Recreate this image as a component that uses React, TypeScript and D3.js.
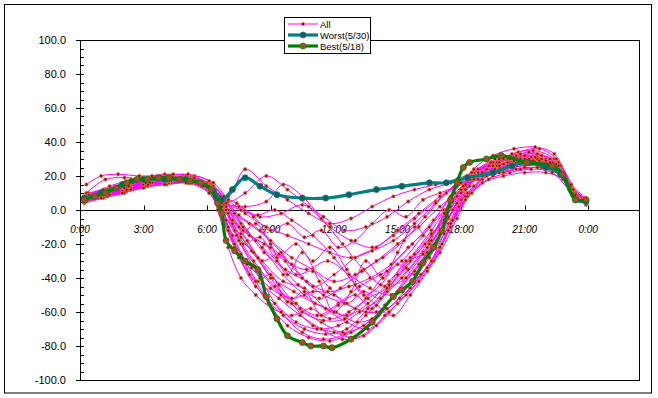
import React, { useEffect, useRef } from 'react'
import * as d3 from 'd3'

type Pt = [number, number] // [hour of day, value]

const xTicks = [0, 3, 6, 9, 12, 15, 18, 21, 24]
const xTickLabels = ['0:00', '3:00', '6:00', '9:00', '12:00', '15:00', '18:00', '21:00', '0:00']
const yTicks = [100, 80, 60, 40, 20, 0, -20, -40, -60, -80, -100]
const legendNames = ['All', 'Worst(5/30)', 'Best(5/18)']

// teal series
const worst: Pt[] = [[0.2, 7], [1.0, 10], [2.0, 15], [3.0, 18], [4.0, 18], [5.0, 18], [5.7, 16], [6.3, 11], [6.7, 6], [7.2, 12], [7.8, 19], [8.5, 14], [9.3, 9], [10.5, 7], [11.6, 7], [12.7, 9], [14.0, 12], [15.2, 14], [16.5, 16], [17.3, 16], [18.3, 19], [19.5, 22], [20.4, 26], [21.2, 28], [22.0, 25], [22.7, 21], [23.4, 6], [23.9, 5]]

// green series
const best: Pt[] = [[0.2, 6], [0.7, 8], [1.2, 10], [1.7, 13], [2.2, 16], [2.7, 18], [3.2, 18], [3.7, 19], [4.2, 19], [4.7, 18], [5.2, 17], [5.7, 16], [6.2, 12], [6.5, 4], [6.7, -2], [6.9, -18], [7.3, -24], [7.8, -30], [8.4, -35], [8.8, -51], [9.3, -64], [9.8, -74], [10.5, -78], [10.9, -80], [11.5, -80], [11.9, -81], [12.8, -76], [13.8, -66], [14.8, -51], [15.2, -47], [15.7, -42], [16.2, -31], [16.7, -22], [17.1, -12], [17.5, 6], [17.8, 16], [18.1, 25], [18.4, 28], [19.2, 30], [19.9, 32], [21.1, 28], [22.3, 26], [22.8, 21], [23.4, 6], [23.9, 6]]

// magenta series ("All")
const day01: Pt[] = [[0.3, 6], [1, 9], [2, 14], [3, 17], [4, 19], [5, 18], [6, 14], [6.8, 2], [7.5, -18], [8.5, -40], [9.5, -60], [10.5, -72], [11.5, -76], [12.5, -73], [13.5, -62], [14.5, -48], [15.5, -35], [16.5, -18], [17.5, 2], [18.5, 20], [19.5, 27], [20.5, 30], [21.5, 29], [22.5, 24], [23.3, 10], [23.9, 5]]
const day02: Pt[] = [[0.2, 5], [1.1, 8], [2.1, 12], [3.1, 16], [4.1, 17], [5.1, 17], [6.1, 10], [6.7, -5], [7.4, -25], [8.3, -45], [9.2, -55], [10.2, -66], [11.2, -70], [12.2, -68], [13.2, -60], [14.2, -52], [15.2, -40], [16.2, -25], [17.2, -8], [18.2, 12], [19.2, 24], [20.2, 28], [21.2, 30], [22.2, 27], [23.2, 12], [23.9, 6]]
const day03: Pt[] = [[0.4, 8], [1.3, 12], [2.3, 16], [3.3, 19], [4.3, 20], [5.3, 19], [6.2, 15], [6.9, 5], [7.6, -8], [8.6, -22], [9.6, -38], [10.6, -50], [11.6, -58], [12.6, -62], [13.6, -55], [14.6, -42], [15.6, -28], [16.6, -12], [17.6, 6], [18.6, 18], [19.6, 25], [20.6, 31], [21.6, 33], [22.6, 26], [23.4, 8], [23.9, 4]]
const day04: Pt[] = [[0.3, 7], [1.2, 11], [2.2, 15], [3.2, 18], [4.2, 19], [5.2, 19], [6.1, 15], [7.0, 8], [7.8, 24], [8.8, 14], [9.8, 6], [10.8, -2], [11.8, -8], [12.8, -5], [13.8, 2], [14.8, 8], [15.8, 12], [16.8, 15], [17.8, 18], [18.8, 20], [19.8, 24], [20.8, 27], [21.8, 26], [22.6, 22], [23.3, 9], [23.9, 5]]
const day05: Pt[] = [[0.2, 6], [1.0, 10], [2.0, 14], [3.0, 16], [4.0, 18], [5.0, 18], [6.0, 13], [6.8, 4], [7.8, 2], [8.8, 5], [9.6, 15], [10.5, 8], [11.4, -5], [12.4, -20], [13.4, -35], [14.4, -45], [15.4, -40], [16.4, -25], [17.4, -8], [18.4, 10], [19.4, 22], [20.4, 27], [21.4, 28], [22.4, 25], [23.3, 10], [23.9, 6]]
const day06: Pt[] = [[0.3, 15], [1.0, 20], [1.8, 21], [2.8, 20], [3.8, 20], [4.8, 19], [5.8, 16], [6.6, 6], [7.3, -12], [8.2, -30], [9.2, -45], [10.2, -55], [11.2, -62], [12.2, -55], [13.2, -45], [14.2, -38], [15.2, -30], [16.2, -15], [17.2, 0], [18.2, 15], [19.2, 24], [20.2, 30], [21.2, 34], [22.2, 30], [23.1, 15], [23.8, 7]]
const day07: Pt[] = [[0.2, 4], [1.1, 7], [2.1, 10], [3.1, 14], [4.1, 15], [5.1, 16], [6.0, 13], [6.6, 2], [7.2, -15], [7.9, -32], [8.7, -50], [9.6, -62], [10.6, -70], [11.6, -73], [12.6, -70], [13.6, -58], [14.6, -45], [15.6, -30], [16.6, -15], [17.6, 5], [18.6, 22], [19.6, 30], [20.6, 32], [21.6, 31], [22.6, 25], [23.4, 7]]
const day08: Pt[] = [[0.4, 7], [1.4, 10], [2.4, 13], [3.4, 17], [4.4, 18], [5.4, 17], [6.3, 11], [7.0, 0], [8.0, -8], [9.0, -18], [10.0, -28], [11.0, -35], [12.0, -42], [13.0, -38], [14.0, -30], [15.0, -20], [16.0, -10], [17.0, 2], [18.0, 12], [19.0, 20], [20.0, 24], [21.0, 26], [22.0, 25], [22.9, 18], [23.6, 6]]
const day09: Pt[] = [[0.3, 9], [1.2, 12], [2.2, 15], [3.2, 17], [4.2, 17], [5.2, 16], [6.1, 12], [6.8, 3], [7.5, -10], [8.4, -28], [9.4, -44], [10.4, -58], [11.4, -66], [12.4, -72], [13.4, -68], [14.4, -56], [15.4, -40], [16.4, -22], [17.4, -5], [18.4, 14], [19.4, 26], [20.4, 33], [21.4, 35], [22.4, 30], [23.2, 14], [23.9, 5]]
const day10: Pt[] = [[0.2, 6], [1.0, 8], [2.0, 11], [3.0, 15], [4.0, 17], [5.0, 18], [5.9, 15], [6.7, 8], [7.5, -3], [8.5, -12], [9.5, -25], [10.5, -40], [11.5, -50], [12.5, -55], [13.5, -60], [14.5, -58], [15.5, -45], [16.5, -28], [17.5, -8], [18.5, 10], [19.5, 20], [20.5, 25], [21.5, 27], [22.5, 24], [23.3, 10], [23.9, 4]]
const day11: Pt[] = [[0.3, 8], [1.3, 11], [2.3, 14], [3.3, 18], [4.3, 19], [5.3, 18], [6.2, 14], [6.9, 0], [7.6, -20], [8.5, -36], [9.5, -50], [10.5, -60], [11.5, -65], [12.5, -64], [13.5, -52], [14.5, -36], [15.5, -22], [16.5, -10], [17.5, 8], [18.5, 22], [19.5, 28], [20.5, 30], [21.5, 28], [22.5, 26], [23.3, 11], [23.9, 6]]
const day12: Pt[] = [[0.2, 5], [1.1, 9], [2.1, 13], [3.1, 16], [4.1, 18], [5.1, 17], [6.1, 13], [6.7, 0], [7.3, -22], [8.0, -38], [8.9, -55], [9.8, -68], [10.8, -75], [11.8, -77], [12.8, -72], [13.8, -64], [14.8, -50], [15.8, -36], [16.8, -20], [17.6, 0], [18.4, 18], [19.4, 28], [20.4, 30], [21.4, 29], [22.4, 26], [23.2, 12], [23.8, 6]]
const day13: Pt[] = [[0.4, 10], [1.4, 13], [2.4, 16], [3.4, 18], [4.4, 19], [5.4, 18], [6.3, 14], [7.0, 5], [7.8, 10], [8.8, 20], [9.8, 12], [10.8, 2], [11.8, -10], [12.8, -18], [13.8, -22], [14.8, -15], [15.8, -5], [16.8, 5], [17.8, 14], [18.8, 20], [19.8, 25], [20.8, 29], [21.8, 30], [22.6, 24], [23.3, 10], [23.9, 5]]
const day14: Pt[] = [[0.3, 7], [1.2, 10], [2.2, 12], [3.2, 15], [4.2, 16], [5.2, 17], [6.2, 12], [6.9, 2], [7.7, -12], [8.7, -20], [9.7, -30], [10.7, -35], [11.7, -30], [12.7, -38], [13.7, -46], [14.7, -50], [15.7, -42], [16.7, -30], [17.5, -10], [18.3, 8], [19.3, 18], [20.3, 22], [21.3, 24], [22.3, 22], [23.1, 12], [23.8, 5]]
const day15: Pt[] = [[0.2, 8], [1.0, 11], [2.0, 15], [3.0, 19], [4.0, 21], [5.0, 20], [6.0, 16], [6.6, 5], [7.2, -8], [8.1, -24], [9.1, -40], [10.1, -48], [11.1, -55], [12.1, -60], [13.1, -66], [14.1, -62], [15.1, -52], [16.1, -38], [17.1, -20], [17.9, 2], [18.7, 20], [19.7, 28], [20.7, 34], [21.7, 36], [22.5, 30], [23.3, 12], [23.9, 6]]
const day16: Pt[] = [[0.3, 6], [1.3, 8], [2.3, 12], [3.3, 15], [4.3, 16], [5.3, 16], [6.2, 12], [6.8, -2], [7.4, -15], [8.2, -25], [9.0, -40], [10.0, -55], [11.0, -68], [12.0, -72], [13.0, -75], [14.0, -68], [15.0, -55], [16.0, -42], [17.0, -25], [17.8, -5], [18.6, 14], [19.6, 24], [20.6, 28], [21.6, 30], [22.6, 27], [23.4, 10], [23.9, 5]]
const day17: Pt[] = [[0.4, 9], [1.4, 14], [2.4, 18], [3.4, 20], [4.4, 21], [5.4, 20], [6.3, 16], [7.0, 6], [7.8, -2], [8.8, -10], [9.8, -15], [10.8, -20], [11.8, -25], [12.8, -28], [13.8, -24], [14.8, -18], [15.8, -8], [16.8, 4], [17.8, 16], [18.8, 24], [19.8, 28], [20.8, 31], [21.8, 32], [22.6, 28], [23.3, 12], [23.9, 6]]
const day18: Pt[] = [[0.2, 5], [1.2, 8], [2.2, 11], [3.2, 14], [4.2, 16], [5.2, 16], [6.1, 11], [6.7, -4], [7.3, -20], [8.1, -34], [9.0, -46], [10.0, -52], [11.0, -48], [12.0, -50], [13.0, -58], [14.0, -60], [15.0, -48], [16.0, -32], [17.0, -14], [17.8, 4], [18.6, 18], [19.6, 22], [20.6, 24], [21.6, 25], [22.6, 22], [23.4, 8], [23.9, 3]]
const day19: Pt[] = [[0.3, 7], [1.1, 10], [2.1, 13], [3.1, 17], [4.1, 18], [5.1, 19], [6.0, 15], [6.6, 4], [7.2, -6], [8.0, -15], [9.0, -22], [10.0, -32], [11.0, -45], [12.0, -38], [13.0, -28], [14.0, -22], [15.0, -12], [16.0, -2], [17.0, 8], [18.0, 16], [19.0, 22], [20.0, 27], [21.0, 30], [22.0, 28], [23.0, 18], [23.7, 6]]
const day20: Pt[] = [[0.3, 10], [1.2, 18], [2.1, 19], [3.1, 18], [4.1, 17], [5.1, 16], [6.1, 10], [6.8, -3], [7.6, -16], [8.6, -30], [9.6, -42], [10.6, -46], [11.6, -58], [12.6, -66], [13.6, -70], [14.6, -60], [15.6, -46], [16.6, -30], [17.4, -12], [18.2, 6], [19.0, 18], [20.0, 24], [21.0, 28], [22.0, 30], [22.8, 22], [23.5, 8]]
const day21: Pt[] = [[0.2, 7], [1.1, 9], [2.1, 14], [3.1, 16], [4.1, 17], [5.1, 18], [6.0, 14], [6.7, 4], [7.5, 2], [8.5, -4], [9.5, -2], [10.5, 3], [11.5, -4], [12.5, -12], [13.5, -10], [14.5, -4], [15.5, 5], [16.5, 12], [17.5, 16], [18.5, 22], [19.5, 26], [20.5, 29], [21.5, 31], [22.5, 27], [23.3, 10], [23.9, 4]]
const day22: Pt[] = [[0.4, 6], [1.4, 9], [2.4, 12], [3.4, 16], [4.4, 18], [5.4, 19], [6.3, 13], [6.9, -6], [7.5, -28], [8.4, -42], [9.4, -52], [10.4, -62], [11.4, -70], [12.4, -76], [13.4, -74], [14.4, -62], [15.4, -50], [16.4, -34], [17.2, -14], [18.0, 6], [18.8, 22], [19.8, 30], [20.8, 33], [21.8, 32], [22.7, 26], [23.4, 10]]
const day23: Pt[] = [[0.3, 8], [1.3, 12], [2.3, 15], [3.3, 17], [4.3, 18], [5.3, 17], [6.2, 13], [6.9, 2], [7.7, -10], [8.7, -25], [9.7, -35], [10.7, -42], [11.7, -48], [12.7, -45], [13.7, -40], [14.7, -32], [15.7, -20], [16.7, -6], [17.7, 10], [18.7, 20], [19.7, 26], [20.7, 28], [21.7, 29], [22.6, 24], [23.3, 10], [23.9, 5]]
const day24: Pt[] = [[0.2, 6], [1.0, 10], [2.0, 14], [3.0, 17], [4.0, 19], [5.0, 19], [6.0, 16], [6.6, 8], [7.3, -2], [8.3, -18], [9.3, -30], [10.3, -44], [11.3, -52], [12.3, -46], [13.3, -36], [14.3, -28], [15.3, -18], [16.3, -4], [17.3, 10], [18.3, 20], [19.3, 26], [20.3, 30], [21.3, 31], [22.3, 28], [23.2, 14], [23.9, 6]]
const day25: Pt[] = [[0.3, 8], [1.5, 12], [2.5, 16], [3.5, 18], [4.5, 19], [5.5, 17], [6.3, 12], [7.0, -2], [7.6, -14], [8.3, -8], [9.0, -20], [9.8, -38], [10.5, -25], [11.3, -42], [12.0, -60], [12.8, -48], [13.5, -30], [14.3, -40], [15.0, -25], [15.8, -10], [16.6, -18], [17.3, 0], [18.1, 14], [19.0, 20], [20.0, 22], [21.0, 25], [22.0, 24], [22.8, 20], [23.5, 7]]
const day26: Pt[] = [[0.2, 6], [1.2, 9], [2.2, 13], [3.2, 17], [4.2, 18], [5.2, 18], [6.0, 15], [6.5, 6], [7.0, -10], [7.7, -20], [8.5, -16], [9.3, -28], [10.2, -20], [11.0, -30], [11.8, -22], [12.6, -35], [13.4, -50], [14.2, -44], [15.0, -32], [15.8, -38], [16.5, -20], [17.2, -2], [18.0, 12], [19.0, 22], [20.0, 30], [21.0, 32], [22.0, 29], [23.0, 15], [23.8, 5]]
const day27: Pt[] = [[0.4, 7], [1.3, 10], [2.3, 14], [3.3, 16], [4.3, 17], [5.3, 17], [6.2, 13], [6.9, 4], [7.6, 0], [8.4, -3], [9.2, 0], [10.0, -6], [11.0, -15], [12.0, -28], [13.0, -44], [14.0, -56], [14.8, -62], [15.6, -50], [16.4, -36], [17.0, -22], [17.6, -6], [18.3, 10], [19.2, 20], [20.2, 26], [21.2, 30], [22.2, 28], [23.0, 17], [23.7, 6]]
const day28: Pt[] = [[0.3, 5], [1.0, 7], [2.0, 10], [3.0, 13], [4.0, 15], [5.0, 16], [5.8, 14], [6.5, 3], [7.0, -12], [7.6, -26], [8.3, -42], [9.0, -38], [9.8, -54], [10.6, -48], [11.4, -62], [12.2, -56], [13.0, -50], [13.8, -58], [14.6, -44], [15.4, -30], [16.2, -26], [17.0, -12], [17.8, 8], [18.6, 24], [19.5, 32], [20.5, 36], [21.5, 37], [22.4, 33], [23.2, 15], [23.9, 7]]
const day29: Pt[] = [[0.2, 8], [1.1, 12], [2.1, 15], [3.1, 18], [4.1, 20], [5.1, 21], [6.1, 17], [6.8, 8], [7.4, 4], [8.2, -4], [9.0, -12], [9.8, -8], [10.6, -16], [11.4, -12], [12.2, -22], [13.0, -18], [13.8, -8], [14.6, 0], [15.4, -4], [16.2, 6], [17.0, 10], [17.8, 14], [18.8, 18], [19.8, 22], [20.8, 24], [21.8, 25], [22.6, 22], [23.3, 9], [23.9, 4]]
const day30: Pt[] = [[0.3, 7], [1.2, 9], [2.2, 12], [3.2, 15], [4.2, 17], [5.2, 18], [6.1, 14], [6.7, 2], [7.2, -6], [7.9, -18], [8.6, -30], [9.4, -26], [10.2, -38], [11.0, -36], [11.8, -46], [12.6, -55], [13.4, -48], [14.2, -52], [15.0, -38], [15.8, -26], [16.6, -14], [17.4, -4], [18.2, 8], [19.0, 16], [20.0, 20], [21.0, 22], [22.0, 22], [22.8, 18], [23.5, 6]]
const day31: Pt[] = [[0.2, 6], [1.1, 9], [2.1, 13], [3.1, 16], [4.1, 17], [5.1, 17], [6.0, 14], [6.5, 0], [7.0, -22], [7.6, -40], [8.3, -50], [9.1, -58], [10.0, -62], [10.9, -58], [11.8, -64], [12.7, -60], [13.6, -52], [14.5, -46], [15.4, -34], [16.3, -20], [17.2, -6], [18.0, 10], [18.8, 20], [19.8, 26], [20.8, 30], [21.8, 30], [22.6, 26], [23.4, 9]]

const allDays: Pt[][] = [day01, day02, day03, day04, day05, day06, day07, day08, day09, day10, day11, day12,
  day13, day14, day15, day16, day17, day18, day19, day20, day21, day22, day23, day24,
  day25, day26, day27, day28, day29, day30, day31]

const App = () => {
  const ref = useRef<SVGSVGElement>(null)

  useEffect(() => {
    const svg = d3.select(ref.current)
    svg.selectAll('*').remove()

    // plot area box, Excel style
    const plot = { left: 80, top: 40, right: 639, bottom: 380 }

    const xScale = d3.scaleLinear().domain([0, 26.4]).range([plot.left, plot.right])
    const yScale = d3.scaleLinear().domain([-100, 100]).range([plot.bottom, plot.top])

    const line = d3.line<Pt>()
      .x(d => xScale(d[0]))
      .y(d => yScale(d[1]))
      .curve(d3.curveCatmullRom.alpha(0.5))

    // outer chart border
    svg.append('rect')
      .attr('x', 4.5).attr('y', 4.5)
      .attr('width', 647).attr('height', 388.5)
      .attr('fill', '#fff').attr('stroke', '#000')

    svg.append('rect')
      .attr('x', plot.left + 0.5).attr('y', plot.top + 0.5)
      .attr('width', plot.right - plot.left).attr('height', plot.bottom - plot.top)
      .attr('fill', '#fff').attr('stroke', '#000')

    // y axis: minor ticks every 5, major every 20
    const yMinor = d3.range(-100, 101, 5)
    svg.append('g').selectAll('line')
      .data(yMinor)
      .enter().append('line')
      .attr('x1', d => (d % 20 === 0 ? plot.left - 4 : plot.left))
      .attr('x2', plot.left + 4)
      .attr('y1', d => Math.round(yScale(d)) + 0.5)
      .attr('y2', d => Math.round(yScale(d)) + 0.5)
      .attr('stroke', '#000')

    svg.append('g').selectAll('text')
      .data(yTicks)
      .enter().append('text')
      .attr('x', 66)
      .attr('y', d => yScale(d) + 4)
      .attr('text-anchor', 'end')
      .style('font-family', 'Liberation Sans, Arial, sans-serif')
      .style('font-size', '11px')
      .text(d => d.toFixed(1))

    // x axis sits on zero
    const y0 = Math.round(yScale(0)) + 0.5
    svg.append('line')
      .attr('x1', plot.left).attr('x2', plot.right)
      .attr('y1', y0).attr('y2', y0)
      .attr('stroke', '#000')

    svg.append('g').selectAll('line')
      .data(xTicks)
      .enter().append('line')
      .attr('x1', d => Math.round(xScale(d)) + 0.5)
      .attr('x2', d => Math.round(xScale(d)) + 0.5)
      .attr('y1', y0 - 5).attr('y2', y0)
      .attr('stroke', '#000')

    svg.append('g').selectAll('text')
      .data(xTicks)
      .enter().append('text')
      .attr('x', d => xScale(d))
      .attr('y', y0 + 22)
      .attr('text-anchor', 'middle')
      .style('font-family', 'Liberation Sans, Arial, sans-serif')
      .style('font-size', '10px')
      .style('font-style', 'italic')
      .text((d, i) => xTickLabels[i])

    // all days, thin magenta with small markers
    allDays.forEach(day => {
      svg.append('path')
        .datum(day)
        .attr('fill', 'none')
        .attr('stroke', '#ff00ff')
        .attr('stroke-width', 1)
        .attr('d', line)
    })
    allDays.forEach(day => {
      svg.append('g').selectAll('circle')
        .data(day)
        .enter().append('circle')
        .attr('cx', d => xScale(d[0]))
        .attr('cy', d => yScale(d[1]))
        .attr('r', 1.7)
        .attr('fill', '#8b1010')
        .attr('stroke', '#ff7050')
        .attr('stroke-width', 0.8)
    })

    // worst and best day on top
    const drawBold = (data: Pt[], color: string, marker: string) => {
      svg.append('path')
        .datum(data)
        .attr('fill', 'none')
        .attr('stroke', color)
        .attr('stroke-width', 3.2)
        .attr('d', line)
      svg.append('g').selectAll('circle')
        .data(data)
        .enter().append('circle')
        .attr('cx', d => xScale(d[0]))
        .attr('cy', d => yScale(d[1]))
        .attr('r', 3)
        .attr('fill', marker)
        .attr('stroke', color)
        .attr('stroke-width', 0.8)
    }
    drawBold(worst, '#008080', '#1a5c5c')
    drawBold(best, '#008000', '#b4452a')

    // legend box
    const lg = svg.append('g').attr('transform', 'translate(284,17)')
    lg.append('rect')
      .attr('x', 0.5).attr('y', 0.5)
      .attr('width', 86).attr('height', 36)
      .attr('fill', '#fff').attr('stroke', '#000')
    const legendStyle = [
      { color: '#ff00ff', width: 1, r: 1.7, fill: '#8b1010' },
      { color: '#008080', width: 3.2, r: 3, fill: '#1a5c5c' },
      { color: '#008000', width: 3.2, r: 3, fill: '#b4452a' }
    ]
    legendNames.forEach((name, i) => {
      const yy = 7 + i * 11
      const st = legendStyle[i]
      lg.append('line')
        .attr('x1', 4).attr('x2', 34)
        .attr('y1', yy).attr('y2', yy)
        .attr('stroke', st.color)
        .attr('stroke-width', st.width)
      lg.append('circle')
        .attr('cx', 19).attr('cy', yy).attr('r', st.r)
        .attr('fill', st.fill)
        .attr('stroke', i === 0 ? '#ff7050' : st.color)
        .attr('stroke-width', 0.8)
      lg.append('text')
        .attr('x', 36).attr('y', yy + 3.5)
        .style('font-family', 'Liberation Sans, Arial, sans-serif')
        .style('font-size', '9.5px')
        .text(name)
    })
  }, [])

  return (
    <svg ref={ref} width={658} height={398}
      style={{ position: 'absolute', left: 0, top: 0, background: '#fff' }} />
  )
}

export default App
